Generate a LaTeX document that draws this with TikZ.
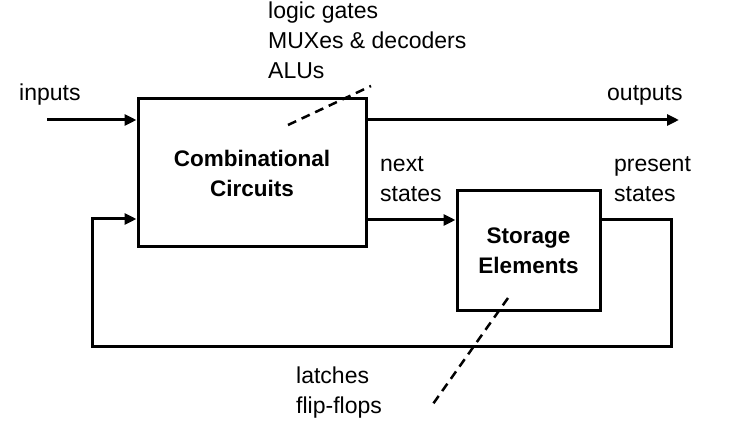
\documentclass[tikz,border=0pt]{standalone}
\usepackage{fontspec}
\setmainfont{Liberation Sans}
\usetikzlibrary{arrows.meta}
\begin{document}
\begin{tikzpicture}[x=1pt,y=1pt,
  box/.style={draw,line width=3pt,inner sep=0pt,font=\fontsize{22.5}{30}\selectfont\bfseries,align=center},
  lbl/.style={inner sep=0pt,font=\fontsize{23}{30}\selectfont,align=left},
  wire/.style={line width=3pt},
  arr/.style={wire,-{Triangle[length=12pt,width=11pt]}},
  note/.style={line width=2.5pt,dash pattern=on 9pt off 6pt}]
\useasboundingbox (0,0) rectangle (748,442);
\node[box,minimum width=228pt,minimum height=148pt] (comb) at (252,269) {Combinational\\Circuits};
\node[box,minimum width=143pt,minimum height=120pt] (store) at (528.5,191) {Storage\\Elements};
\coordinate (in0) at (47,322);
\coordinate (out1) at (679,322);
\coordinate (fbR) at (671,222);
\coordinate (fbB) at (92,95);
\draw[arr] (in0) -- (comb.west |- in0);
\draw[arr] (comb.east |- out1) -- (out1);
\draw[arr] (comb.east |- fbR) -- (store.west |- fbR);
\draw[arr] (store.east |- fbR) -- (fbR) |- (fbB) |- (comb.west |- 0,223);
\node[lbl,anchor=west] (tin) at (19,347) {inputs};
\node[lbl,anchor=west] (tout) at (607,347) {outputs};
\node[lbl,anchor=west] (tns) at (380,263) {next\\states};
\node[lbl,anchor=west] (tps) at (614,263) {present\\states};
\node[lbl,anchor=west] (tcomb) at (268,402) {logic gates\\MUXes \& decoders\\ALUs};
\node[lbl,anchor=west] (tstore) at (296,49) {latches\\flip-flops};
\coordinate (d1a) at (288,317);
\coordinate (d1b) at (371,356);
\coordinate (d2a) at (508,144);
\coordinate (d2b) at (433,38);
\draw[note] (d1a) -- (d1b);
\draw[note] (d2a) -- (d2b);
\end{tikzpicture}
\end{document}
